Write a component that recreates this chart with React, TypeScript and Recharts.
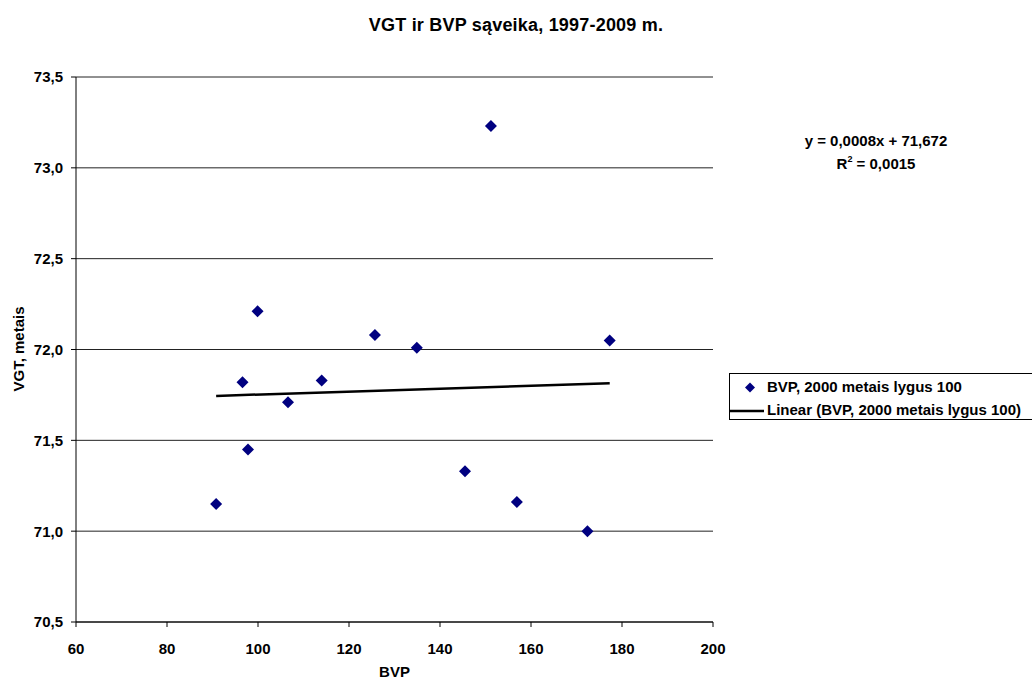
import React from "react";
import { ScatterChart, Scatter, XAxis, YAxis, CartesianGrid, Legend } from "recharts";

// BVP index (2000 = 100) against life expectancy, 1997-2009
const bvp = [90.8, 96.6, 97.8, 99.9, 106.6, 114.0, 125.7, 134.9, 145.5, 151.2, 156.9, 172.4, 177.3];
const vgt = [71.15, 71.82, 71.45, 72.21, 71.71, 71.83, 72.08, 72.01, 71.33, 73.23, 71.16, 71.0, 72.05];

// linear trend as printed on the chart
const slope = 0.0008;
const intercept = 71.672;

const xTicks = [60, 80, 100, 120, 140, 160, 180, 200];
const yTicks = [70.5, 71.0, 71.5, 72.0, 72.5, 73.0, 73.5];

const points = bvp.map((x, i) => ({ x, y: vgt[i] }));
const xMin = Math.min(...bvp);
const xMax = Math.max(...bvp);
const trend = [
  { x: xMin, y: intercept + slope * xMin },
  { x: xMax, y: intercept + slope * xMax },
];

const FONT = "'Liberation Sans', Arial, sans-serif";
const NAVY = "#000080";
const fmt = (v: number) => v.toFixed(1).replace(".", ",");

function Diamond(props: any) {
  const { cx, cy } = props;
  if (cx == null || cy == null) return null;
  const r = 6;
  return (
    <polygon
      points={`${cx},${cy - r} ${cx + r},${cy} ${cx},${cy + r} ${cx - r},${cy}`}
      fill={NAVY}
    />
  );
}

function XTick(props: any) {
  const { x, y, payload } = props;
  return (
    <text x={x} y={y} dy="0.71em" textAnchor="middle" fontSize={15} fontWeight={700} fontFamily={FONT} fill="#000">
      {payload.value}
    </text>
  );
}

function YTick(props: any) {
  const { x, y, payload } = props;
  return (
    <text x={x} y={y} dy="0.36em" textAnchor="end" fontSize={15} fontWeight={700} fontFamily={FONT} fill="#000">
      {fmt(payload.value)}
    </text>
  );
}

function LegendBox() {
  return (
    <div
      style={{
        border: "1px solid #000",
        borderRight: "none",
        height: 47,
        boxSizing: "border-box",
        fontFamily: FONT,
        fontWeight: "bold",
        fontSize: 15,
        color: "#000",
        paddingTop: 1,
        lineHeight: "22px",
      }}
    >
      <div style={{ display: "flex", alignItems: "center", height: 24 }}>
        <svg width={37} height={24} style={{ flex: "none" }}>
          <polygon points="20,7.5 25,12.5 20,17.5 15,12.5" fill={NAVY} />
        </svg>
        <span>BVP, 2000 metais lygus 100</span>
      </div>
      <div style={{ display: "flex", alignItems: "center", height: 22 }}>
        <svg width={37} height={22} style={{ flex: "none" }}>
          <line x1={0} y1={12} x2={34} y2={12} stroke="#000" strokeWidth={2.5} />
        </svg>
        <span>Linear (BVP, 2000 metais lygus 100)</span>
      </div>
    </div>
  );
}

export default function App() {
  return (
    <div style={{ position: "absolute", left: 0, top: 0, width: 1032, height: 681, background: "#fff", overflow: "hidden" }}>
      <div
        style={{
          position: "absolute",
          top: 15,
          left: 516,
          transform: "translateX(-50%)",
          whiteSpace: "nowrap",
          fontFamily: FONT,
          fontWeight: "bold",
          fontSize: 18,
          letterSpacing: 0.2,
        }}
      >
        VGT ir BVP sąveika, 1997-2009 m.
      </div>
      <div
        style={{
          position: "absolute",
          left: 18,
          top: 349,
          transform: "translate(-50%, -50%) rotate(-90deg)",
          whiteSpace: "nowrap",
          fontFamily: FONT,
          fontWeight: "bold",
          fontSize: 15,
        }}
      >
        VGT, metais
      </div>
      <div
        style={{
          position: "absolute",
          left: 776,
          top: 129,
          width: 200,
          textAlign: "center",
          fontFamily: FONT,
          fontWeight: "bold",
          fontSize: 15,
          lineHeight: "23px",
        }}
      >
        <div>y = 0,0008x + 71,672</div>
        <div>
          R<sup style={{ fontSize: 9, verticalAlign: "7px", lineHeight: 0 }}>2</sup> = 0,0015
        </div>
      </div>
      <ScatterChart
        width={1032}
        height={681}
        margin={{ top: 77, right: 319, left: 16, bottom: 29 }}
        style={{ position: "absolute", left: 0, top: 0 }}
      >
        <CartesianGrid horizontal vertical={false} stroke="#222" strokeOpacity={1} />
        <XAxis
          type="number"
          dataKey="x"
          domain={[60, 200]}
          ticks={xTicks}
          height={30}
          tick={<XTick />}
          tickSize={5}
          tickMargin={16}
          axisLine={{ stroke: "#000" }}
          tickLine={{ stroke: "#000" }}
          label={{
            value: "BVP",
            position: "bottom",
            offset: 14,
            style: { fontSize: 15, fontWeight: 700, fill: "#000", fontFamily: FONT },
          }}
        />
        <YAxis
          type="number"
          dataKey="y"
          domain={[70.5, 73.5]}
          ticks={yTicks}
          width={60}
          tick={<YTick />}
          tickSize={5}
          tickMargin={8}
          axisLine={{ stroke: "#000" }}
          tickLine={{ stroke: "#000" }}
        />
        <Legend
          layout="vertical"
          align="center"
          verticalAlign="middle"
          wrapperStyle={{ left: 729, top: 373, width: 304 }}
          content={() => <LegendBox />}
        />
        <Scatter
          name="BVP, 2000 metais lygus 100"
          data={points}
          shape={Diamond}
          isAnimationActive={false}
        />
        <Scatter
          name="Linear (BVP, 2000 metais lygus 100)"
          data={trend}
          line={{ stroke: "#000", strokeWidth: 2.5 }}
          shape={() => null}
          isAnimationActive={false}
        />
      </ScatterChart>
    </div>
  );
}
